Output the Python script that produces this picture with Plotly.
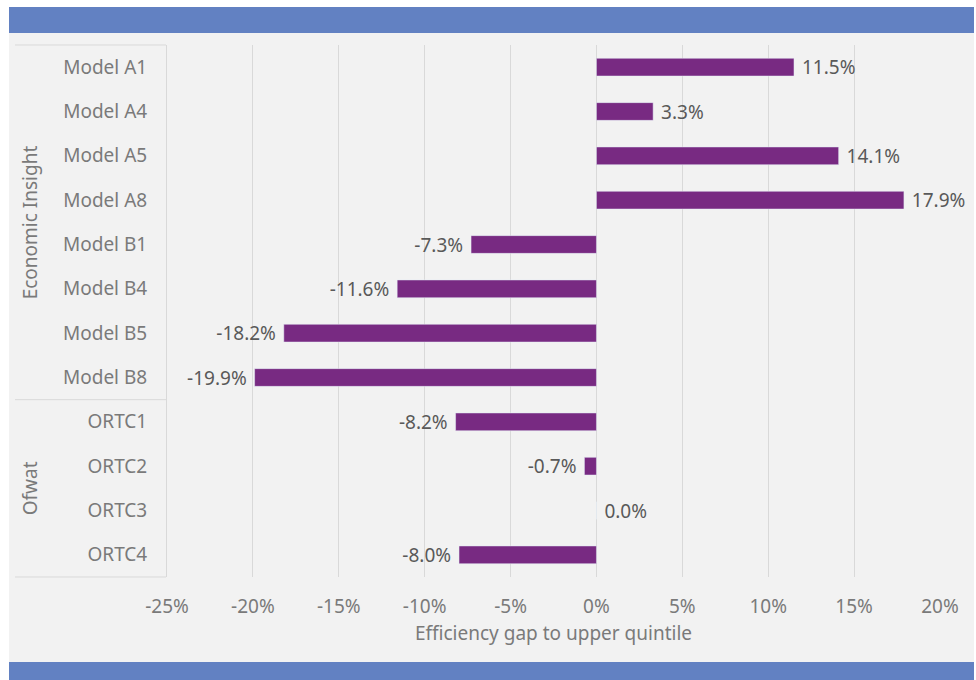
import plotly.graph_objects as go

categories = ["Model A1", "Model A4", "Model A5", "Model A8", "Model B1", "Model B4",
              "Model B5", "Model B8", "ORTC1", "ORTC2", "ORTC3", "ORTC4"]
values = [0.115, 0.033, 0.141, 0.179, -0.073, -0.116, -0.182, -0.199, -0.082, -0.007, 0.0, -0.080]
groups = ["Economic Insight", "Ofwat"]
group_sizes = [8, 4]
x_ticks = [-0.25, -0.20, -0.15, -0.10, -0.05, 0.0, 0.05, 0.10, 0.15, 0.20]
x_ticktext = [f"{round(v * 100):d}%" for v in x_ticks]
x_title = "Efficiency gap to upper quintile"

NB = "\u00a0"
labels = [(NB + f"{v * 100:.1f}%") if v >= 0 else (f"{v * 100:.1f}%" + NB) for v in values]

W, H = 976, 680
L, R, T, B = 167, 940, 45, 577

def px(x):
    return (x - L) / (R - L)

def py(y):
    return (B - y) / (B - T)

TXT = "#7a7a7a"
LBL = "#595959"
GRID = "#d9d9d9"
FONT = "Noto Sans"
FS = 19

fig = go.Figure(go.Bar(
    y=categories, x=values, orientation="h",
    marker_color="#782a82", width=0.4,
    text=labels, textposition="outside", constraintext="none",
    textfont=dict(color=LBL, size=FS, family=FONT),
    cliponaxis=False,
))

shapes = [
    dict(type="rect", xref="paper", yref="paper", x0=px(9), x1=px(974), y0=py(662), y1=py(33),
         fillcolor="#f2f2f2", line_width=0, layer="below"),
    dict(type="rect", xref="paper", yref="paper", x0=px(9), x1=px(974), y0=py(33), y1=py(7),
         fillcolor="#6281c2", line_width=0, layer="below"),
    dict(type="rect", xref="paper", yref="paper", x0=px(9), x1=px(974), y0=py(690), y1=py(662),
         fillcolor="#6281c2", line_width=0, layer="below"),
]
row_h = (B - T) / len(categories)
ys = [T]
acc = 0
for n in group_sizes:
    acc += n
    ys.append(T + acc * row_h)
for yy in ys:
    shapes.append(dict(type="line", xref="paper", yref="paper", x0=px(15), x1=px(166),
                       y0=py(yy), y1=py(yy), line=dict(color=GRID, width=1), layer="above"))

annotations = []
for i, g in enumerate(groups):
    yc = (ys[i] + ys[i + 1]) / 2
    annotations.append(dict(text=g, xref="paper", yref="paper", x=px(30), y=py(yc),
                            textangle=-90, showarrow=False, xanchor="center", yanchor="middle",
                            font=dict(color=TXT, size=FS, family=FONT)))

fig.update_layout(
    width=W, height=H,
    margin=dict(l=L, r=W - R, t=T, b=H - B),
    paper_bgcolor="white", plot_bgcolor="rgba(0,0,0,0)",
    font=dict(family=FONT, color=TXT, size=FS),
    showlegend=False,
    shapes=shapes, annotations=annotations,
    xaxis=dict(range=[-0.25, 0.20], tickvals=x_ticks, ticktext=x_ticktext,
               showgrid=True, gridcolor=GRID, gridwidth=1, zeroline=True, zerolinecolor=GRID,
               zerolinewidth=1, showline=False, ticks="outside", ticklen=12,
               tickcolor="rgba(0,0,0,0)", tickfont=dict(size=FS, color=TXT),
               title=dict(text=x_title, font=dict(size=FS, color=TXT), standoff=8)),
    yaxis=dict(categoryorder="array", categoryarray=categories, autorange="reversed",
               showgrid=False, showline=True, linecolor=GRID, linewidth=1,
               ticks="outside", ticklen=15, tickcolor="rgba(0,0,0,0)",
               tickfont=dict(size=FS, color=TXT)),
)

fig.write_html("out.html", config={"displayModeBar": False},
               post_script="document.body.style.margin='0';")
